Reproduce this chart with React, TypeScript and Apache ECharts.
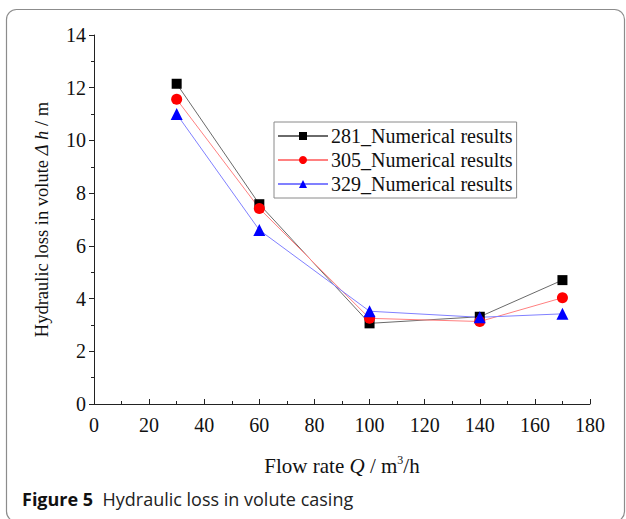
import React, { useEffect, useRef } from "react";
import * as echarts from "echarts";

// Flow rates (m³/h) at which each impeller was simulated
const flowRates = [30, 60, 100, 140, 170];
// Hydraulic loss in the volute (m) for each impeller diameter
const loss281 = [12.15, 7.58, 3.06, 3.31, 4.7];
const loss305 = [11.56, 7.42, 3.25, 3.13, 4.03];
const loss329 = [11.0, 6.6, 3.52, 3.29, 3.42];

const seriesNames = ["281_Numerical results", "305_Numerical results", "329_Numerical results"];

const serif = "'Liberation Serif', 'DejaVu Serif', serif";
const sans = "'Open Sans', 'Noto Sans', sans-serif";

export default function App() {
  const ref = useRef<HTMLDivElement>(null);

  useEffect(() => {
    if (!ref.current) return;
    const chart = echarts.init(ref.current, null, { renderer: "svg" });

    const pairs = (ys: number[]) => flowRates.map((x, i) => [x, ys[i]]);

    chart.setOption({
      animation: false,
      backgroundColor: "#ffffff",
      grid: { left: 94, right: 36, top: 35, bottom: 115 },
      legend: {
        left: 274,
        top: 122,
        orient: "vertical",
        borderColor: "#8a8a8a",
        borderWidth: 1,
        padding: [4, 4, 4, 3],
        itemGap: 4,
        itemWidth: 50,
        itemHeight: 10,
        textStyle: { fontFamily: serif, fontSize: 20, color: "#111", padding: [0, 0, 0, -2] },
        data: seriesNames,
      },
      xAxis: {
        type: "value",
        min: 0,
        max: 180,
        interval: 20,
        name: "Flow rate {i|Q} / m{sup|3}/h",
        nameLocation: "middle",
        nameGap: 50,
        nameTextStyle: {
          fontFamily: serif,
          fontSize: 21,
          color: "#111",
          rich: {
            i: { fontFamily: serif, fontSize: 21, fontStyle: "italic", color: "#111" },
            sup: { fontFamily: serif, fontSize: 12, color: "#111", verticalAlign: "top", padding: [0, 0, 12, 0] },
          },
        },
        axisLine: { show: true, lineStyle: { color: "#222", width: 1 } },
        axisTick: { show: true, inside: true, length: 5, lineStyle: { color: "#222" } },
        minorTick: { show: true, splitNumber: 2, length: 3, lineStyle: { color: "#222" } },
        axisLabel: { fontFamily: serif, fontSize: 20, color: "#111", margin: 11 },
        splitLine: { show: false },
      },
      yAxis: {
        type: "value",
        min: 0,
        max: 14,
        interval: 2,
        name: "Hydraulic loss in volute {i|Δ h} / m",
        nameLocation: "middle",
        nameGap: 43,
        nameTextStyle: {
          fontFamily: serif,
          fontSize: 18.5,
          color: "#111",
          rich: {
            i: { fontFamily: serif, fontSize: 18.5, fontStyle: "italic", color: "#111" },
          },
        },
        axisLine: { show: true, lineStyle: { color: "#222", width: 1 } },
        axisTick: { show: true, inside: false, length: 5, lineStyle: { color: "#222" } },
        minorTick: { show: true, splitNumber: 2, length: 3, lineStyle: { color: "#222" } },
        axisLabel: { fontFamily: serif, fontSize: 20, color: "#111", margin: 8 },
        splitLine: { show: false },
      },
      series: [
        {
          name: seriesNames[0],
          type: "line",
          data: pairs(loss281),
          symbol: "rect",
          symbolSize: 10,
          itemStyle: { color: "#000000" },
          lineStyle: { color: "#6a6a6a", width: 1 },
        },
        {
          name: seriesNames[1],
          type: "line",
          data: pairs(loss305),
          symbol: "circle",
          symbolSize: 11,
          itemStyle: { color: "#ff0000" },
          lineStyle: { color: "#ff8080", width: 1 },
        },
        {
          name: seriesNames[2],
          type: "line",
          data: pairs(loss329),
          symbol: "triangle",
          symbolSize: 12,
          itemStyle: { color: "#0000ff" },
          lineStyle: { color: "#8080ff", width: 1 },
        },
      ],
      graphic: [
        {
          type: "rect",
          shape: { x: 6.5, y: 9.5, width: 618, height: 512, r: 10 },
          style: { fill: "none", stroke: "#8c8c8c", lineWidth: 1.2 },
          silent: true,
        },
        {
          type: "text",
          x: 22,
          y: 499,
          style: {
            text: "{b|Figure 5}  Hydraulic loss in volute casing",
            fontFamily: sans,
            fontSize: 18,
            fill: "#222",
            verticalAlign: "middle",
            rich: {
              b: { fontFamily: sans, fontSize: 18, fontWeight: "bold", fill: "#111" },
            },
          },
        },
      ],
    });

    return () => chart.dispose();
  }, []);

  return (
    <div
      ref={ref}
      style={{ position: "fixed", left: 0, top: 0, width: 626, height: 519 }}
    />
  );
}
